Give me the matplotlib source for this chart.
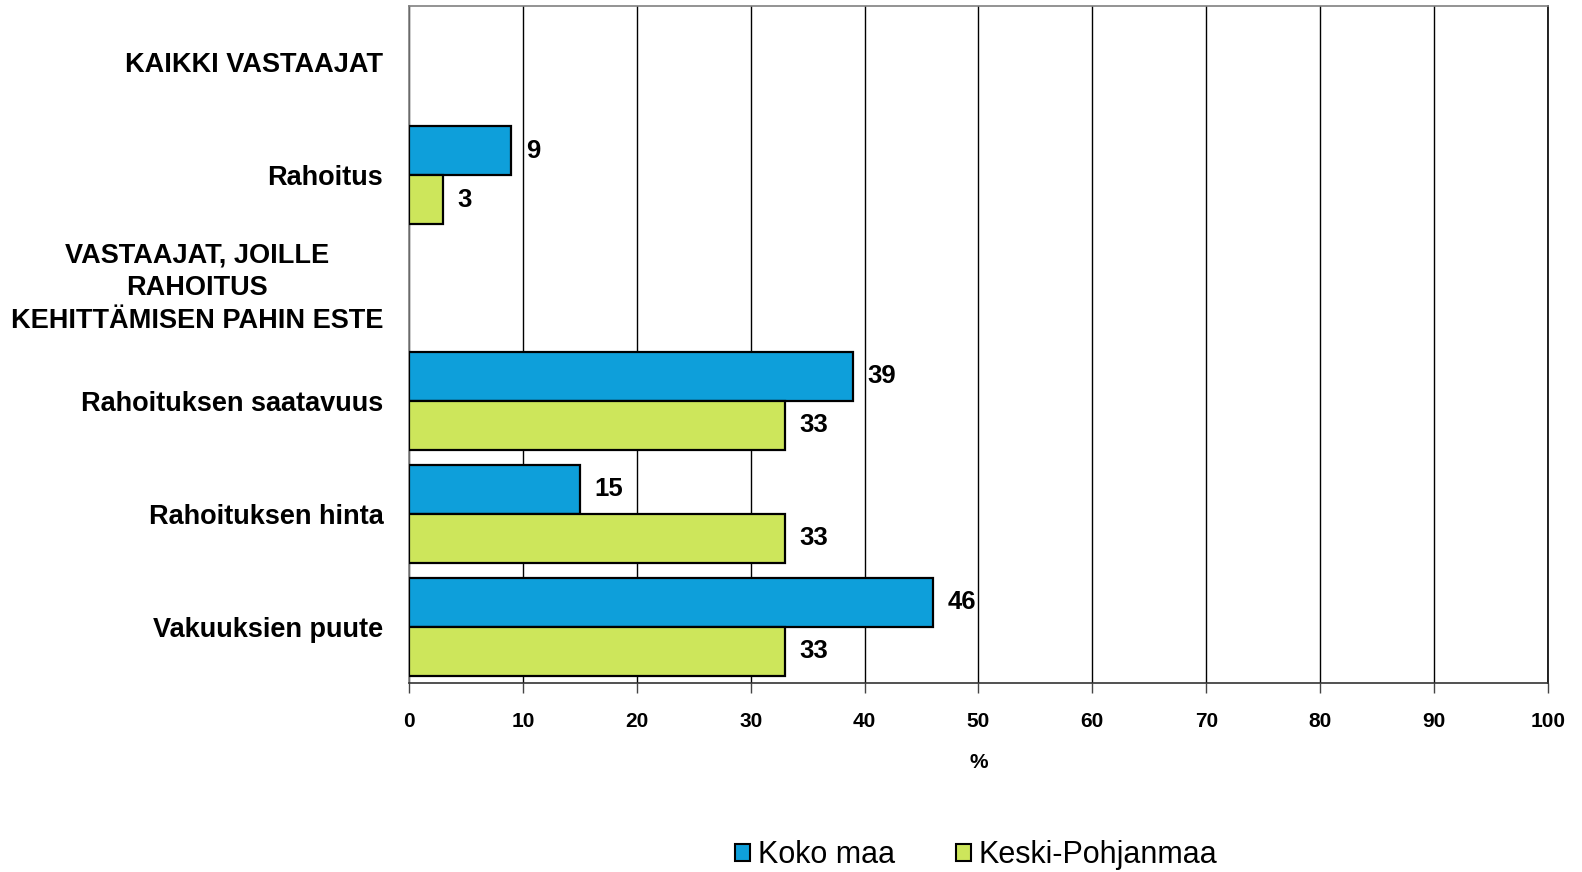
import os
import numpy as np
import matplotlib.pyplot as plt
from matplotlib.patches import Patch
from matplotlib import font_manager
from matplotlib.font_manager import FontProperties

# chart data
categories = ['KAIKKI VASTAAJAT',
              'Rahoitus',
              'VASTAAJAT, JOILLE\nRAHOITUS\nKEHITTÄMISEN PAHIN ESTE',
              'Rahoituksen saatavuus',
              'Rahoituksen hinta',
              'Vakuuksien puute']
koko_maa = [np.nan, 9, np.nan, 39, 15, 46]
keski_pohjanmaa = [np.nan, 3, np.nan, 33, 33, 33]
series_names = ['Koko maa', 'Keski-Pohjanmaa']
x_ticks = [0, 10, 20, 30, 40, 50, 60, 70, 80, 90, 100]

c_blue = '#0E9FDA'
c_green = '#CDE65B'


def font_from_file(fname, size, weight='normal'):
    # pick the exact font file
    for fe in font_manager.fontManager.ttflist:
        if os.path.basename(fe.fname) == fname:
            return FontProperties(fname=fe.fname, size=size)
    return FontProperties(family='DejaVu Sans', weight=weight, size=size)


cat_fp = font_from_file('LiberationSans-Bold.ttf', 19.5, 'bold')
val_fp = font_from_file('LiberationSans-Bold.ttf', 18.5, 'bold')
tick_fp = font_from_file('LiberationSans-Bold.ttf', 15, 'bold')
leg_fp = font_from_file('LiberationSans-Regular.ttf', 22)

f = plt.figure(figsize=(15.82, 8.72), dpi=100)
ax = f.add_axes([0.2585, 0.2167, 0.72, 0.7764])

y = np.arange(len(categories))
h = 0.434
ax.barh(y - h/2, koko_maa, height=h, color=c_blue, edgecolor='k', lw=1.6, zorder=3)
ax.barh(y + h/2, keski_pohjanmaa, height=h, color=c_green, edgecolor='k', lw=1.6, zorder=3)

# value labels
for i in range(len(categories)):
    if not np.isnan(koko_maa[i]):
        ax.text(koko_maa[i] + 1.25, y[i] - h/2, '{0:d}'.format(int(koko_maa[i])),
                va='center', ha='left', fontproperties=val_fp)
    if not np.isnan(keski_pohjanmaa[i]):
        ax.text(keski_pohjanmaa[i] + 1.25, y[i] + h/2, '{0:d}'.format(int(keski_pohjanmaa[i])),
                va='center', ha='left', fontproperties=val_fp)

ax.set_xlim(0, 100)
ax.set_ylim(len(categories) - 0.5, -0.5)
ax.set_xticks(x_ticks)
ax.set_xticklabels([str(t) for t in x_ticks], fontproperties=tick_fp)
ax.set_yticks(y)
ax.set_yticklabels(categories, fontproperties=cat_fp)
for lab in ax.get_yticklabels():
    lab.set_multialignment('center')
    lab.set_linespacing(1.32)
    if '\n' in lab.get_text():
        lab.set_verticalalignment('center')

ax.tick_params(axis='y', length=0, pad=18.5)
ax.tick_params(axis='x', direction='out', length=7, width=1, pad=14, color='#444444')
ax.set_xlabel('%', fontproperties=tick_fp, labelpad=16)

ax.grid(axis='x', color='k', lw=1, zorder=0)
for s in ['left', 'top']:
    ax.spines[s].set_color('#808080')
ax.spines['right'].set_color('k')
ax.spines['bottom'].set_color('#333333')
for s in ax.spines.values():
    s.set_linewidth(1.2)

handles = [Patch(facecolor=c_blue, edgecolor='k', lw=1.5),
           Patch(facecolor=c_green, edgecolor='k', lw=1.5)]
f.legend(handles, series_names, loc='center', bbox_to_anchor=(0.617, 0.019), ncol=2,
         frameon=False, handlelength=0.5, handleheight=0.5,
         handletextpad=0.25, columnspacing=2.0, prop=leg_fp)

f.savefig('out.png', dpi=100)
